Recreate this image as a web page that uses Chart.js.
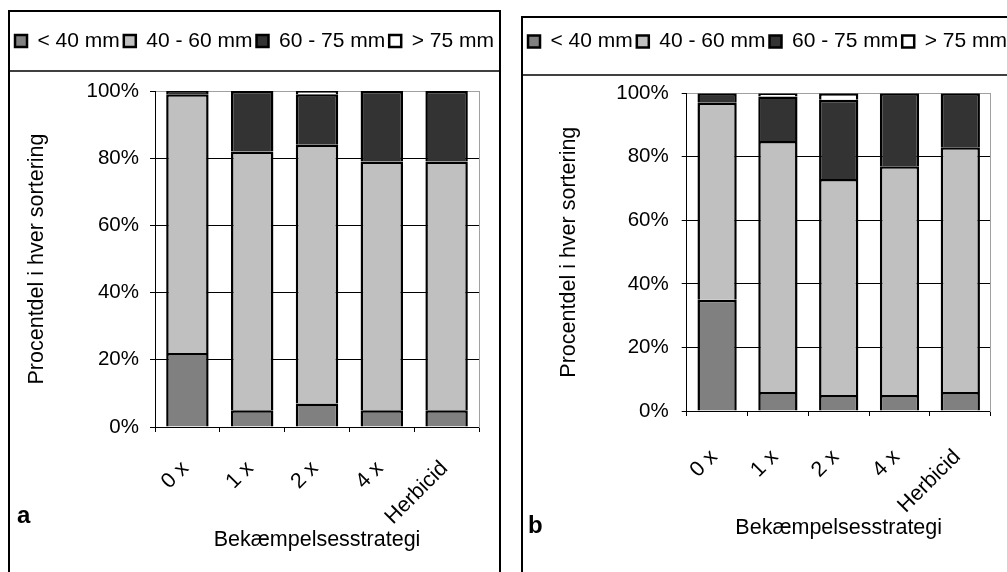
<!DOCTYPE html>
<html><head><meta charset="utf-8">
<script src="https://cdn.jsdelivr.net/npm/chart.js@4.4.1/dist/chart.umd.min.js"></script>
<style>
html,body{margin:0;padding:0;background:#fff;width:1007px;height:572px;overflow:hidden;}
.panel{position:absolute;border:2px solid #000;background:#fff;box-sizing:content-box;}
#pa{left:8px;top:10px;width:489px;height:600px;}
#pb{left:521px;top:16px;width:489px;height:600px;}
.wrap{position:absolute;left:0;top:0;}
</style></head><body>
<div class="panel" id="pa"><div class="wrap" style="width:489px;height:560px"><canvas id="ca"></canvas></div></div>
<div class="panel" id="pb"><div class="wrap" style="width:489px;height:554px"><canvas id="cb"></canvas></div></div>
<script>
// ---- data ----
const categories = ['0 x', '1 x', '2 x', '4 x', 'Herbicid'];
const seriesNames = ['< 40 mm', '40 - 60 mm', '60 - 75 mm', '> 75 mm'];
const seriesColors = ['#808080', '#c0c0c0', '#333333', '#ffffff'];
const yTickValues = [0, 20, 40, 60, 80, 100];
const yTitle = 'Procentdel i hver sortering';
const xTitle = 'Bekæmpelsesstrategi';

// panel a
const aLt40   = [22, 5, 7, 5, 5];
const a40to60 = [77, 77, 77, 74, 74];
const a60to75 = [1, 18, 15, 21, 21];
const aGt75   = [0, 0, 1, 0, 0];
// panel b
const bLt40   = [35, 6, 5, 5, 6];
const b40to60 = [62, 79, 68, 72, 77];
const b60to75 = [3, 14, 25, 23, 17];
const bGt75   = [0, 1, 2, 0, 0];

Chart.defaults.font.family = '"Liberation Sans", Arial, Helvetica, sans-serif';
Chart.defaults.color = '#000';

const decor = {
  id: 'decor',
  afterDraw(chart, args, o) {
    const ctx = chart.ctx;
    ctx.save();
    ctx.strokeStyle = '#000';
    ctx.lineWidth = 1.5;
    ctx.beginPath();
    ctx.moveTo(0, o.sepY);
    ctx.lineTo(chart.width, o.sepY);
    ctx.stroke();
    ctx.font = 'bold 24px "Liberation Sans", Arial, sans-serif';
    ctx.fillStyle = '#000';
    ctx.textBaseline = 'alphabetic';
    ctx.textAlign = 'left';
    ctx.fillText(o.label, o.lx, o.ly);
    ctx.restore();
  }
};

function makeChart(id, values, g) {
  const datasets = seriesNames.map((name, i) => ({
    label: name,
    data: values[i],
    backgroundColor: seriesColors[i],
    borderColor: '#000',
    borderWidth: 2.5,
    borderSkipped: 'start',
    inflateAmount: 0,
    categoryPercentage: 1,
    barPercentage: g.barPct
  }));
  return new Chart(document.getElementById(id), {
    type: 'bar',
    data: { labels: categories, datasets },
    plugins: [decor],
    options: {
      responsive: true,
      maintainAspectRatio: false,
      animation: false,
      layout: { padding: { top: g.padTop, left: 0, right: 0, bottom: 0 } },
      plugins: {
        tooltip: { enabled: false },
        decor: { sepY: g.sepY, label: g.label, lx: g.lx, ly: g.ly },
        legend: {
          position: 'top',
          align: 'center',
          labels: {
            font: { size: 21 },
            color: '#000',
            boxWidth: 12,
            boxHeight: 12,
            padding: 4
          }
        }
      },
      scales: {
        x: {
          stacked: true,
          offset: true,
          grid: { display: true, drawOnChartArea: false, drawTicks: true, tickLength: 5, color: '#000', offset: true },
          border: { display: true, color: '#000', width: 1 },
          ticks: { font: { size: 21.5 }, color: '#000', minRotation: 45, maxRotation: 45, autoSkip: false, padding: g.xTickPad, labelOffset: g.labelOffset },
          title: { display: true, text: xTitle, font: { size: 21.5 }, color: '#000', padding: { top: 0, bottom: g.xTitlePad } },
          afterFit: s => { s.height = g.xH; }
        },
        x2: {
          type: 'category',
          position: 'top',
          display: true,
          grid: { display: false },
          ticks: { display: false },
          border: { display: true, color: '#a0a0a0', width: 1 },
          afterFit: s => { s.height = g.topH; }
        },
        y: {
          stacked: true,
          min: 0,
          max: 100,
          afterBuildTicks: s => { s.ticks = yTickValues.map(v => ({ value: v })); },
          ticks: { font: { size: 20.5 }, color: '#000', padding: g.yTickPad, callback: v => v + '%' },
          grid: {
            color: c => (c.tick && c.tick.value === 100) ? '#a0a0a0' : '#000',
            tickColor: '#000',
            tickLength: 5,
            lineWidth: 1
          },
          border: { display: true, color: '#000', width: 1 },
          title: { display: true, text: yTitle, font: { size: 21.5 }, color: '#000', padding: { top: g.yTitlePad, bottom: 0 } },
          afterFit: s => { s.width = g.yW; }
        },
        y2: {
          type: 'linear',
          position: 'right',
          display: true,
          grid: { display: false },
          ticks: { display: false },
          border: { display: true, color: '#a0a0a0', width: 1 },
          afterFit: s => { s.width = g.y2W; }
        }
      }
    }
  });
}

makeChart('ca', [aLt40, a40to60, a60to75, aGt75], {
  barPct: 0.655, padTop: 14.5, topH: 29.5, yW: 145, y2W: 20, xH: 145,
  xTitlePad: 19.2, yTitlePad: 14.2, yTickPad: 11, xTickPad: 24, labelOffset: -2,
  sepY: 59, label: 'a', lx: 7, ly: 511
});
makeChart('cb', [bLt40, b40to60, b60to75, bGt75], {
  barPct: 0.646, padTop: 9, topH: 31.3, yW: 163.7, y2W: 21.3, xH: 161,
  xTitlePad: 31.2, yTitlePad: 32.9, yTickPad: 13, xTickPad: 28.5, labelOffset: -3,
  sepY: 57, label: 'b', lx: 5, ly: 515
});
</script>
</body></html>
